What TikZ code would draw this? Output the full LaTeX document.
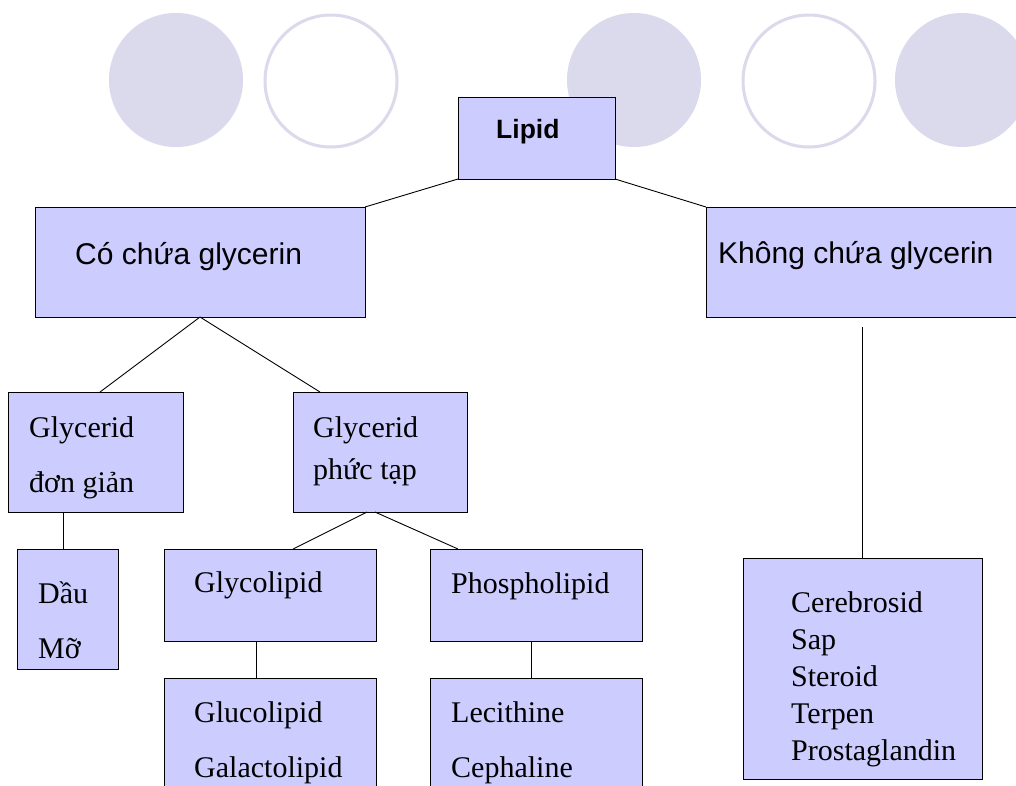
\documentclass[tikz,border=0pt]{standalone}
\usepackage{fontspec}
\setmainfont{Liberation Serif}
\newfontfamily\sansf{Liberation Sans}
\definecolor{boxfill}{HTML}{CCCCFF}
\definecolor{deco}{HTML}{DADAEC}
\begin{document}
\begin{tikzpicture}[x=1pt,y=-1pt,
  box/.style={draw=black, line width=1pt, fill=boxfill, inner sep=0pt, outer sep=0pt, anchor=north west},
  conn/.style={draw=black, line width=0.9pt},
  lbl/.style={anchor=base west, inner sep=0pt, font=\fontsize{30}{36}\selectfont},
  slbl/.style={anchor=base west, inner sep=0pt, font=\sansf\fontsize{30}{36}\selectfont},
  decofill/.style={fill=deco},
  decoring/.style={draw=deco, line width=3pt}]
\useasboundingbox (0,0) rectangle (1016,785);
\fill[white] (0,0) rectangle (1016,785);
\clip (0,0) rectangle (1016,785);
% decorative circles
\fill[decofill] (176,80) circle (67pt);
\draw[decoring] (331,81) circle (66pt);
\fill[decofill] (634,80) circle (67pt);
\draw[decoring] (809,81) circle (66pt);
\fill[decofill] (962,80) circle (67pt);
% boxes
\node[box, minimum width=157pt, minimum height=82pt] (lipid) at (458,97) {};
\node[box, minimum width=330pt, minimum height=110pt] (co) at (35,207) {};
\node[box, minimum width=330pt, minimum height=110pt] (kh) at (706,207) {};
\node[box, minimum width=175pt, minimum height=120pt] (don) at (8,392) {};
\node[box, minimum width=174pt, minimum height=120pt] (phuc) at (293,392) {};
\node[box, minimum width=101pt, minimum height=120pt] (dau) at (17,549) {};
\node[box, minimum width=212pt, minimum height=92pt] (glyco) at (164,549) {};
\node[box, minimum width=212pt, minimum height=92pt] (phos) at (430,549) {};
\node[box, minimum width=212pt, minimum height=130pt] (gluco) at (164,678) {};
\node[box, minimum width=212pt, minimum height=130pt] (leci) at (430,678) {};
\node[box, minimum width=239pt, minimum height=221pt] (cer) at (743,558) {};
% connectors
\draw[conn] (lipid.south west) -- (co.north east);
\draw[conn] (lipid.south east) -- (kh.north west);
\draw[conn] (co.south) -- ([xshift=92pt]don.north west);
\draw[conn] (co.south) -- ([xshift=27pt]phuc.north west);
\draw[conn] ([xshift=55pt]don.south west) -- ([xshift=46pt]dau.north west);
\draw[conn] ([xshift=74pt]phuc.south west) -- ([xshift=129pt]glyco.north west);
\draw[conn] ([xshift=82pt]phuc.south west) -- ([xshift=28pt]phos.north west);
\draw[conn] ([xshift=92pt]glyco.south west) -- ([xshift=92pt]gluco.north west);
\draw[conn] ([xshift=101pt]phos.south west) -- ([xshift=101pt]leci.north west);
\coordinate (khfoot) at (862,327);
\draw[conn] (khfoot) -- (cer.north -| khfoot);
% labels
\node[anchor=base west, inner sep=0pt, font=\sansf\bfseries\fontsize{26.5}{32}\selectfont] (tlipid) at (496,138) {Lipid};
\node[slbl] (tco) at (75,264) {Có chứa glycerin};
\node[slbl] (tkh) at (718,263) {Không chứa glycerin};
\node[lbl] (tdon1) at (29,437) {Glycerid};
\node[lbl] (tdon2) at (29,492) {đơn giản};
\node[lbl] (tphuc1) at (313,437) {Glycerid};
\node[lbl] (tphuc2) at (313,479) {phức tạp};
\node[lbl] (tdau1) at (38,603) {Dầu};
\node[lbl] (tdau2) at (38,658) {Mỡ};
\node[lbl] (tglyco) at (194,592) {Glycolipid};
\node[lbl] (tgluco1) at (194,722) {Glucolipid};
\node[lbl] (tgluco2) at (194,777) {Galactolipid};
\node[lbl] (tphos) at (451,593) {Phospholipid};
\node[lbl] (tleci1) at (451,722) {Lecithine};
\node[lbl] (tleci2) at (451,777) {Cephaline};
\node[lbl] (tcer1) at (791,612) {Cerebrosid};
\node[lbl] (tcer2) at (791,649) {Sap};
\node[lbl] (tcer3) at (791,686) {Steroid};
\node[lbl] (tcer4) at (791,723) {Terpen};
\node[lbl] (tcer5) at (791,760) {Prostaglandin};
\end{tikzpicture}
\end{document}
